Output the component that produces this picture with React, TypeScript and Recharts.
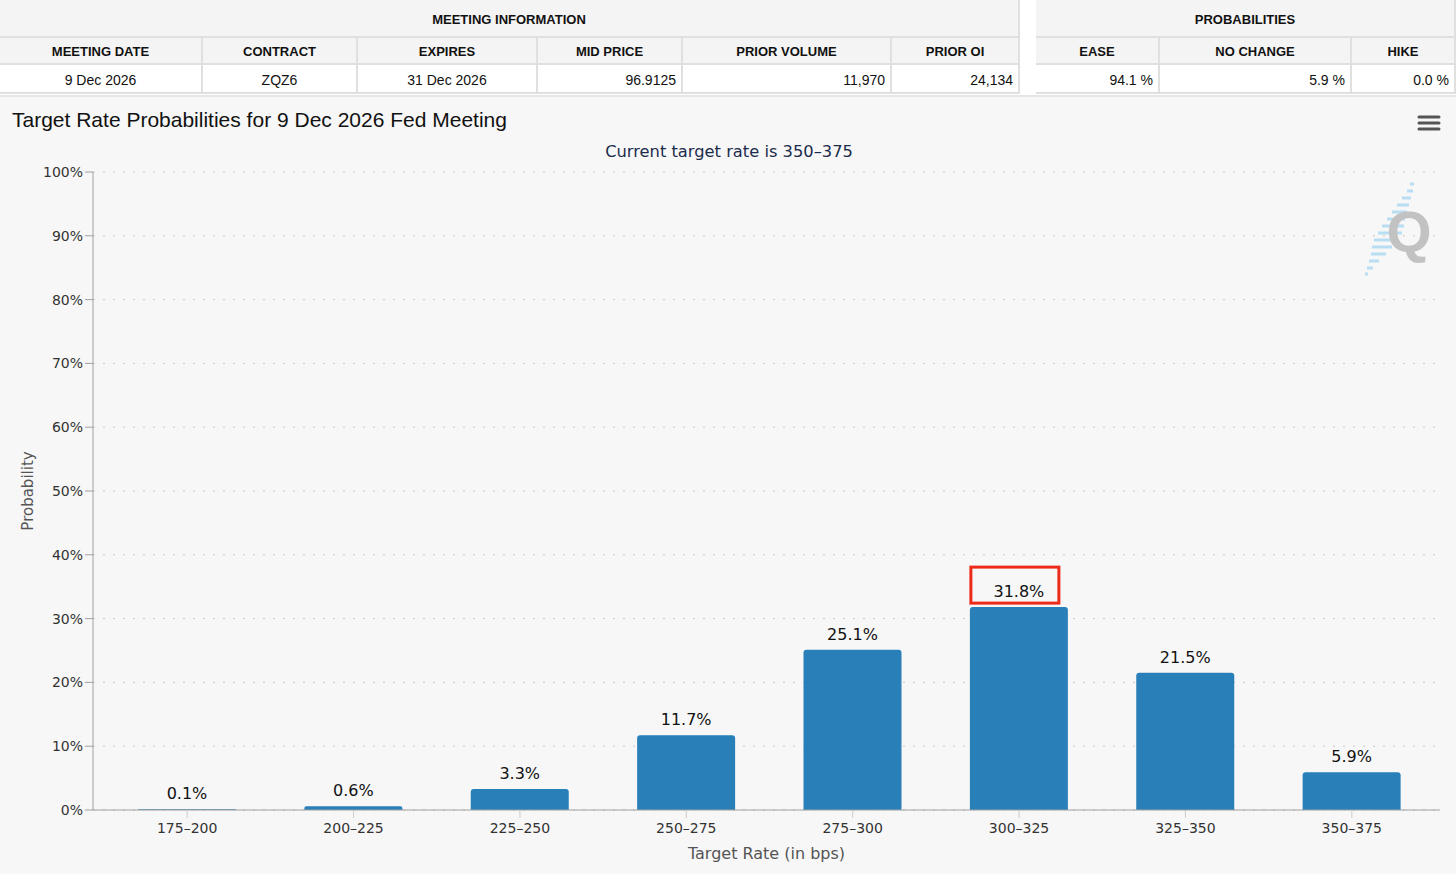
import React from "react";
import {
  BarChart,
  Bar,
  XAxis,
  YAxis,
  CartesianGrid,
  LabelList,
  Label,
} from "recharts";

const meetingHeaders = ["MEETING DATE", "CONTRACT", "EXPIRES", "MID PRICE", "PRIOR VOLUME", "PRIOR OI"];
const meetingValues = ["9 Dec 2026", "ZQZ6", "31 Dec 2026", "96.9125", "11,970", "24,134"];
const meetingAlign = ["center", "center", "center", "right", "right", "right"];
const meetingWidths = [203, 155, 180, 145, 209, 128];

const probHeaders = ["EASE", "NO CHANGE", "HIKE"];
const probValues = ["94.1 %", "5.9 %", "0.0 %"];
const probWidths = [124, 192, 104];

const rateRanges = ["175-200", "200-225", "225-250", "250-275", "275-300", "300-325", "325-350", "350-375"];
const probabilities = [0.1, 0.6, 3.3, 11.7, 25.1, 31.8, 21.5, 5.9];
const highlighted = "300-325";
const yTicks = [0, 10, 20, 30, 40, 50, 60, 70, 80, 90, 100];

const data = rateRanges.map((r, i) => ({ range: r.replace("-", "\u2013"), key: r, value: probabilities[i] }));

const tableFont = "'Liberation Sans', Arial, sans-serif";
const chartFont = "'DejaVu Sans', Verdana, sans-serif";
const border = "2px solid #e0e0e0";

function Cell({ w, h, bold, align, bg, children }: any) {
  return (
    <div
      style={{
        width: w,
        height: h,
        boxSizing: "border-box",
        borderRight: border,
        borderBottom: border,
        background: bg,
        display: "flex",
        alignItems: "center",
        justifyContent: align === "right" ? "flex-end" : "center",
        padding: "2px 5px 0 5px",
        fontWeight: bold ? 700 : 400,
        fontSize: bold ? 13 : 14,
        color: "#111",
      }}
    >
      {children}
    </div>
  );
}

function InfoTable({ title, headers, values, widths, aligns, left }: any) {
  const total = widths.reduce((a: number, b: number) => a + b, 0);
  return (
    <div style={{ position: "absolute", left, top: 0, width: total, fontFamily: tableFont }}>
      <Cell w={total} h={38} bold bg="#f4f4f4">{title}</Cell>
      <div style={{ display: "flex" }}>
        {headers.map((h: string, i: number) => (
          <Cell key={h} w={widths[i]} h={27} bold bg="#f4f4f4">{h}</Cell>
        ))}
      </div>
      <div style={{ display: "flex" }}>
        {values.map((v: string, i: number) => (
          <Cell key={i} w={widths[i]} h={29} align={aligns[i]} bg="#ffffff">{v}</Cell>
        ))}
      </div>
    </div>
  );
}

function ValueLabel(props: any) {
  const { x, y, width, value, index } = props;
  const cx = x + width / 2;
  const base = y - 10;
  const hl = data[index]?.key === highlighted;
  return (
    <g>
      {hl && (
        <rect x={cx - 48} y={base - 30} width={88} height={36} fill="none" stroke="#ee2a1b" strokeWidth={3} />
      )}
      <text x={cx} y={base} textAnchor="middle" fontSize={16} fill="#111" fontFamily={chartFont}>
        {`${value.toFixed(1)}%`}
      </text>
    </g>
  );
}

function Watermark() {
  const dashes = [
    [1410, 184, 4], [1407, 191, 6], [1402, 198, 9], [1397, 205, 12], [1392, 212, 15],
    [1387, 219, 18], [1382, 226, 22], [1378, 233, 24], [1374, 240, 24], [1372, 247, 20],
    [1371, 254, 15], [1369, 261, 10], [1367, 268, 6], [1365, 274, 3],
  ];
  return (
    <svg width={1456} height={300} style={{ position: "absolute", left: 0, top: 0, pointerEvents: "none" }}>
      {dashes.map(([x, y, w], i) => (
        <line key={i} x1={x} y1={y} x2={x + w} y2={y} stroke="#9fd3f0" strokeWidth={3} opacity={0.7} />
      ))}
      <text x={1409} y={252} textAnchor="middle" fontSize={58} fontWeight={700} fill="#c2c2c2" fontFamily="'Liberation Sans', Arial, sans-serif">
        Q
      </text>
    </svg>
  );
}

export default function App() {
  return (
    <div style={{ position: "relative", width: 1456, height: 874, background: "#f7f7f7", overflow: "hidden" }}>
      <style>{"body{margin:0;}"}</style>
      <div style={{ position: "absolute", left: 0, top: 0, width: 1456, height: 95, background: "#ffffff" }} />
      <InfoTable title="MEETING INFORMATION" headers={meetingHeaders} values={meetingValues} widths={meetingWidths} aligns={meetingAlign} left={0} />
      <InfoTable title="PROBABILITIES" headers={probHeaders} values={probValues} widths={probWidths} aligns={["right", "right", "right"]} left={1036} />
      <div style={{ position: "absolute", left: 0, top: 95, width: 1456, height: 2, background: "#e6e6e6" }} />

      <div style={{ position: "absolute", left: 0, top: 97, width: 1456, height: 777 }}>
        <BarChart
          width={1456}
          height={777}
          data={data}
          margin={{ top: 75, right: 16, left: 8, bottom: 34 }}
          barSize={98}
          style={{ fontFamily: chartFont }}
        >
          <CartesianGrid vertical={false} stroke="#c8c8c8" strokeDasharray="2 8" />
          <XAxis
            dataKey="range"
            padding={{ left: 11, right: 5 }}
            stroke="#a0a0a0"
            tickLine={{ stroke: "#cccccc" }}
            tickSize={8}
            tickMargin={5}
            height={30}
            tick={{ fill: "#333", fontSize: 14 }}
            interval={0}
          >
            <Label value="Target Rate (in bps)" position="insideBottom" offset={-19} fill="#555" fontSize={16} />
          </XAxis>
          <YAxis
            domain={[0, 100]}
            ticks={yTicks}
            tickFormatter={(v: number) => `${v}%`}
            width={85}
            stroke="#a0a0a0"
            tickLine={{ stroke: "#a0a0a0" }}
            tickSize={8}
            tick={{ fill: "#333", fontSize: 14 }}
          >
            <Label value="Probability" angle={-90} position="insideLeft" offset={20} fill="#555" fontSize={15} style={{ textAnchor: "middle" }} />
          </YAxis>
          <Bar dataKey="value" fill="#2980b9" radius={[3, 3, 0, 0]} isAnimationActive={false}>
            <LabelList dataKey="value" content={ValueLabel} />
          </Bar>
        </BarChart>
      </div>

      <div style={{ position: "absolute", left: 12, top: 108, fontFamily: "'Liberation Sans', Arial, sans-serif", fontSize: 21, color: "#111" }}>
        Target Rate Probabilities for 9 Dec 2026 Fed Meeting
      </div>
      <div style={{ position: "absolute", left: 0, width: 1458, top: 142, textAlign: "center", fontFamily: chartFont, fontSize: 16.3, color: "#1c2c4c" }}>
        Current target rate is 350–375
      </div>
      <svg width={24} height={18} style={{ position: "absolute", left: 1417, top: 115 }}>
        {[2, 8, 14].map((y) => (
          <line key={y} x1={2} y1={y} x2={22} y2={y} stroke="#555" strokeWidth={3} strokeLinecap="round" />
        ))}
      </svg>
      <Watermark />
    </div>
  );
}
